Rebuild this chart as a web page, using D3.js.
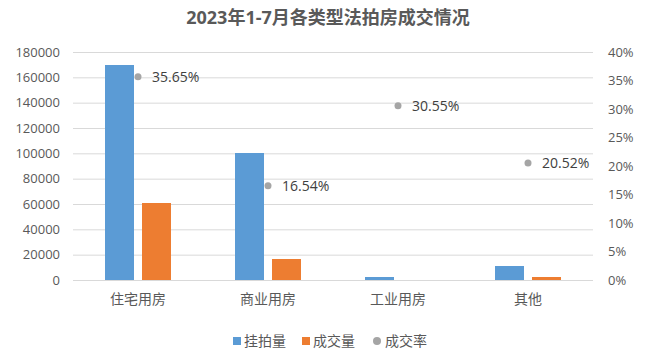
<!DOCTYPE html>
<html><head><meta charset="utf-8">
<script src="https://cdn.jsdelivr.net/npm/d3@7/dist/d3.min.js"></script>
<style>
html,body{margin:0;padding:0;background:#fff;}
svg{display:block;font-family:"Open Sans","Noto Sans CJK SC",sans-serif;}
</style></head>
<body><svg id="c" width="656" height="355"></svg>
<script>
const title = "2023年1-7月各类型法拍房成交情况";
const categories = ["住宅用房","商业用房","工业用房","其他"];
const listed = [170000, 100000, 2400, 11000];
const sold = [60600, 16540, 300, 2260];
const rate = [35.65, 16.54, 30.55, 20.52];
const leftTicks = [0,20000,40000,60000,80000,100000,120000,140000,160000,180000];
const rightTicks = [0,5,10,15,20,25,30,35,40];
const seriesNames = ["挂拍量","成交量","成交率"];
const colors = ["#5B9BD5","#ED7D31","#A5A5A5"];

const svg = d3.select("#c");
const L = 73, R = 593, T = 52, B = 280;
const x = d3.scaleBand().domain(categories).range([L,R]);
const y = d3.scaleLinear().domain([0,180000]).range([B,T]);
const y2 = d3.scaleLinear().domain([0,40]).range([B,T]);
const barW = 29, gap = 8;

svg.append("text").attr("x",328).attr("y",24).attr("text-anchor","middle")
  .attr("font-size",18).attr("font-weight","bold").attr("fill","#595959").text(title);

const yAxis = d3.axisLeft(y).tickValues(leftTicks).tickSize(-(R-L)).tickPadding(13).tickFormat(d3.format("d"));
const ga = svg.append("g").attr("transform",`translate(${L},0)`).call(yAxis);
ga.select(".domain").remove();
ga.selectAll(".tick line").attr("stroke","#d9d9d9");
ga.selectAll(".tick text").attr("fill","#595959").attr("font-size",13).attr("font-family","Open Sans");

const y2Axis = d3.axisRight(y2).tickValues(rightTicks).tickSize(0).tickPadding(15).tickFormat(d=>d+"%");
const gb = svg.append("g").attr("transform",`translate(${R},0)`).call(y2Axis);
gb.select(".domain").remove();
gb.selectAll(".tick text").attr("fill","#595959").attr("font-size",13).attr("font-family","Open Sans");

const xAxis = d3.axisBottom(x).tickSize(0).tickPadding(14);
const gx = svg.append("g").attr("transform",`translate(0,${B})`).call(xAxis);
gx.select(".domain").remove();
gx.selectAll(".tick text").attr("fill","#595959").attr("font-size",14).attr("font-family","Noto Sans CJK SC");

const cx = c => x(c) + x.bandwidth()/2;
svg.append("g").attr("shape-rendering","crispEdges").selectAll("rect").data(categories).join("rect")
  .attr("x",(c)=>cx(c)-gap/2-barW).attr("width",barW)
  .attr("y",(c,i)=>y(listed[i])).attr("height",(c,i)=>B-y(listed[i])).attr("fill",colors[0]);
svg.append("g").attr("shape-rendering","crispEdges").selectAll("rect").data(categories).join("rect")
  .attr("x",(c)=>cx(c)+gap/2).attr("width",barW)
  .attr("y",(c,i)=>y(sold[i])).attr("height",(c,i)=>B-y(sold[i])).attr("fill",colors[1]);

const pts = svg.append("g");
pts.selectAll("circle").data(categories).join("circle")
  .attr("cx",c=>cx(c)).attr("cy",(c,i)=>y2(rate[i])).attr("r",3.5).attr("fill",colors[2]);
pts.selectAll("text").data(categories).join("text")
  .attr("x",c=>cx(c)+14).attr("y",(c,i)=>y2(rate[i])).attr("dy","0.36em")
  .attr("font-size",14).attr("fill","#404040").text((c,i)=>rate[i].toFixed(2)+"%");

const lg = svg.append("g").attr("font-size",14).attr("fill","#595959").attr("font-family","Noto Sans CJK SC");
const lx = [233, 302, 374];
seriesNames.forEach((n,i)=>{
  if(i<2) lg.append("rect").attr("x",lx[i]).attr("y",337).attr("width",8).attr("height",8).attr("fill",colors[i]);
  else lg.append("circle").attr("cx",lx[i]+3).attr("cy",341).attr("r",4).attr("fill",colors[i]);
  lg.append("text").attr("x",lx[i]+11).attr("y",341).attr("dy","0.35em").attr("fill","#595959").text(n);
});
</script></body></html>
